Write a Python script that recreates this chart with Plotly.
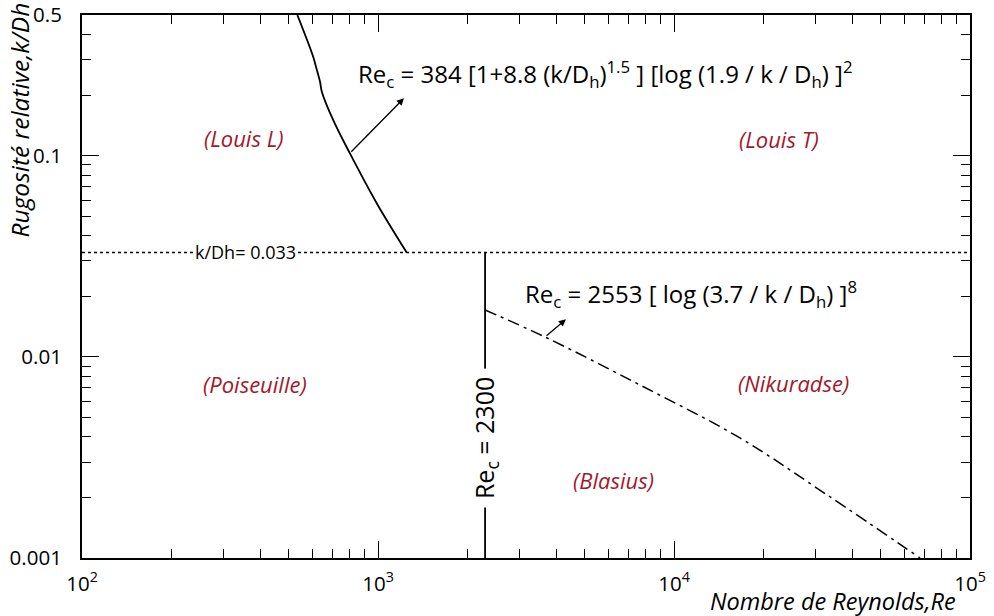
import math
import plotly.graph_objects as go

# ---------------- data ----------------
louis_re = [534, 604, 617, 637, 646, 706, 803, 990, 1250]
louis_k = [0.5, 0.310, 0.277, 0.233, 0.208, 0.150, 0.1028, 0.058, 0.033]

nik_re = [2300, 3666, 7677, 16710, 32880, 67800]
nik_k = [0.0171, 0.01255, 0.00724, 0.00395, 0.00206, 0.001]

crit_k = 0.033
crit_re_span = [100, 100000]
re_lam = 2300
lam_k_span = [0.033, 0.001]

x_tickvals = [100, 1000, 10000, 100000]
x_ticktext = ["10<sup>2</sup>", "10<sup>3</sup>", "10<sup>4</sup>", "10<sup>5</sup>"]
y_tickvals = [0.001, 0.01, 0.1, 0.5]
y_ticktext = ["0.001", "0.01", "0.1", "0.5"]

regions = ["(Louis L)", "(Louis T)", "(Poiseuille)", "(Nikuradse)", "(Blasius)"]

# ---------------- figure ----------------
W, H = 994, 616
L, R, T, B = 82, 24, 15, 58
PW, PH = W - L - R, H - T - B
FONT = "Open Sans"
RED = "#a3182b"


def px(x):
    return (x - L) / PW


def py(y):
    return (H - B - y) / PH


fig = go.Figure()
fig.add_trace(go.Scatter(x=louis_re, y=louis_k, mode="lines",
                         line=dict(color="black", width=1.8), line_shape="spline",
                         hoverinfo="skip"))
fig.add_trace(go.Scatter(x=crit_re_span, y=[crit_k, crit_k], mode="lines",
                         line=dict(color="black", width=1.4, dash="3px,3px"),
                         hoverinfo="skip"))
fig.add_trace(go.Scatter(x=[re_lam, re_lam], y=lam_k_span, mode="lines",
                         line=dict(color="black", width=1.8), hoverinfo="skip"))
fig.add_trace(go.Scatter(x=nik_re, y=nik_k, mode="lines",
                         line=dict(color="black", width=1.5, dash="12px,5px,3px,5px"),
                         line_shape="spline", hoverinfo="skip"))

ann = []
# region labels
region_pos = [(243, 138), (779, 139), (255, 384), (793, 383), (613, 480)]
for txt, (xp, yp) in zip(regions, region_pos):
    ann.append(dict(xref="paper", yref="paper", x=px(xp), y=py(yp), text=txt,
                    showarrow=False, xanchor="center", yanchor="middle",
                    font=dict(family=FONT, size=22, color=RED, style="italic")))

# formulas
ann.append(dict(xref="paper", yref="paper", x=px(356), y=py(74),
                text="Re<sub>c</sub> = 384 [1+8.8 (k/D<sub>h</sub>)<sup>1.5</sup> ] "
                     "[log (1.9 / k / D<sub>h</sub>) ]<sup>2</sup>",
                showarrow=False, xanchor="left", yanchor="middle",
                font=dict(family=FONT, size=24, color="black")))
ann.append(dict(xref="paper", yref="paper", x=px(523), y=py(294),
                text="Re<sub>c</sub> = 2553 [ log (3.7 / k / D<sub>h</sub>) ]<sup>8</sup>",
                showarrow=False, xanchor="left", yanchor="middle",
                font=dict(family=FONT, size=24, color="black")))

# arrows (tail on curves)
ann.append(dict(xref="x", yref="y", axref="x", ayref="y",
                x=math.log10(1224), y=math.log10(0.193),
                ax=math.log10(louis_re[6]), ay=math.log10(louis_k[6]),
                text="", showarrow=True, arrowhead=2, arrowsize=1.1,
                arrowwidth=1.3, arrowcolor="black"))
ann.append(dict(xref="x", yref="y", axref="x", ayref="y",
                x=3.635, y=-1.8134,
                ax=math.log10(nik_re[1]), ay=math.log10(nik_k[1]),
                text="", showarrow=True, arrowhead=2, arrowsize=1.1,
                arrowwidth=1.3, arrowcolor="black"))

# k/Dh label on dotted line
ann.append(dict(xref="paper", yref="y", x=px(245), y=math.log10(crit_k),
                text="k/Dh= 0.033", showarrow=False, xanchor="center",
                yanchor="middle", bgcolor="white", borderpad=1,
                font=dict(family=FONT, size=18, color="black")))

# Re_c = 2300 vertical label
ann.append(dict(xref="x", yref="paper", x=math.log10(re_lam), y=py(438),
                text="Re<sub>c</sub> = 2300", textangle=-90, showarrow=False,
                xanchor="center", yanchor="middle", bgcolor="white", borderpad=8,
                font=dict(family=FONT, size=25, color="black")))

# axis titles
ann.append(dict(xref="paper", yref="paper", x=px(19), y=py(1),
                text="Rugosité relative,k/Dh", textangle=-90, showarrow=False,
                xanchor="center", yanchor="top",
                font=dict(family=FONT, size=24.5, color="black", style="italic")))
ann.append(dict(xref="paper", yref="paper", x=px(958), y=py(601),
                text="Nombre de Reynolds,Re", showarrow=False,
                xanchor="right", yanchor="middle",
                font=dict(family=FONT, size=23.5, color="black", style="italic")))

x_minor = [m * 10 ** e for e in (2, 3, 4) for m in range(2, 10)]
y_minor = [m * 10 ** e for e in (-3, -2) for m in range(2, 10)] + [0.2, 0.3, 0.4]

axis_common = dict(showgrid=False, zeroline=False, showline=True, linecolor="black",
                   linewidth=2, mirror="ticks", ticks="inside", ticklen=17,
                   tickwidth=1.2, tickcolor="black", automargin=False,
                   tickfont=dict(family=FONT, size=20.5, color="black"))

fig.update_layout(
    width=W, height=H, margin=dict(l=L, r=R, t=T, b=B),
    paper_bgcolor="white", plot_bgcolor="white", showlegend=False,
    annotations=ann,
    xaxis=dict(type="log", range=[2 - 1e-5, 5 + 1e-5], tickmode="array",
               tickvals=x_tickvals, ticktext=x_ticktext, ticklabelstandoff=6,
               minor=dict(tickmode="array", tickvals=x_minor, ticks="inside",
                          ticklen=9, tickwidth=1.2, tickcolor="black"),
               **axis_common),
    yaxis=dict(type="log", range=[-3 - 1e-5, math.log10(0.5) + 1e-5], tickmode="array",
               tickvals=y_tickvals, ticktext=y_ticktext, ticklabelstandoff=14,
               minor=dict(tickmode="array", tickvals=y_minor, ticks="inside",
                          ticklen=9, tickwidth=1.2, tickcolor="black"),
               **axis_common),
)

fig.write_html("out.html", config={"displayModeBar": False},
               post_script="document.body.style.margin='0';"
                           "document.body.style.padding='0';")
